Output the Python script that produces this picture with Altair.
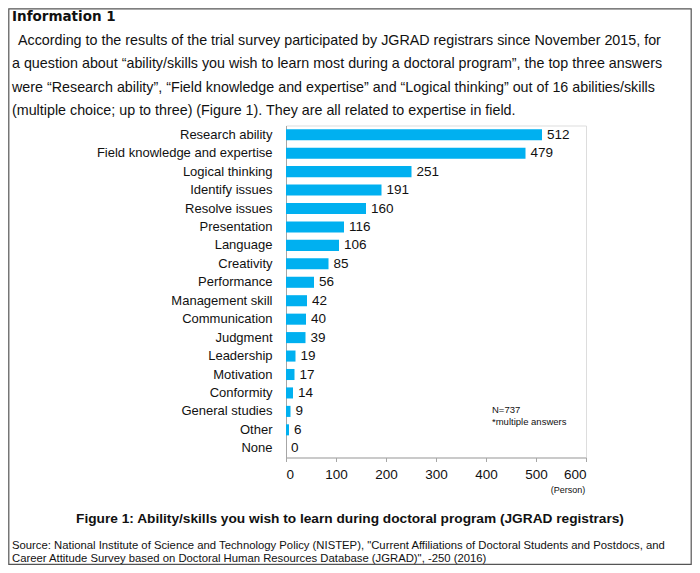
import altair as alt
import pandas as pd

categories = ["Research ability", "Field knowledge and expertise", "Logical thinking",
              "Identify issues", "Resolve issues", "Presentation", "Language", "Creativity",
              "Performance", "Management skill", "Communication", "Judgment\u00a0\u00a0",
              "Leadership", "Motivation", "Conformity\u00a0\u00a0", "General studies", "Other", "None"]
counts = [512, 479, 251, 191, 160, 116, 106, 85, 56, 42, 40, 39, 19, 17, 14, 9, 6, 0]
x_ticks = [0, 100, 200, 300, 400, 500, 600]

title_text = "Information 1"
para_lines = [
    "According to the results of the trial survey participated by JGRAD registrars since November 2015, for",
    "a question about \u201cability/skills you wish to learn most during a doctoral program\u201d, the top three answers",
    "were \u201cResearch ability\u201d, \u201cField knowledge and expertise\u201d and \u201cLogical thinking\u201d out of 16 abilities/skills",
    "(multiple choice; up to three) (Figure 1). They are all related to expertise in field.",
]
caption_text = "Figure 1: Ability/skills you wish to learn during doctoral program (JGRAD registrars)"
source_lines = [
    "Source: National Institute of Science and Technology Policy (NISTEP), \"Current Affiliations of Doctoral Students and Postdocs, and",
    "Career Attitude Survey based on Doctoral Human Resources Database (JGRAD)\", -250 (2016)",
]
note_lines = ["N=737", "*multiple answers"]
unit_text = "(Person)"

df = pd.DataFrame({"skill": categories, "count": counts})

# plot area origin on the page: (286, 125.5)
OX, OY = 286, 125.5
W, H = 300, 332
TOTAL_W, TOTAL_H = 684, 557
PL, PT = OX - 8, OY - 8

FONT = "Liberation Sans"

y_enc = alt.Y("skill:N", sort=categories, title=None,
              scale=alt.Scale(paddingInner=0.4, paddingOuter=0.2),
              axis=alt.Axis(domainColor="#a6a6a6", ticks=False, labelPadding=14, labelLimit=400,
                            labelFontSize=13, labelColor="#111", labelFont=FONT))
x_enc = alt.X("count:Q", title=None, scale=alt.Scale(domain=[0, 600], nice=False),
              axis=alt.Axis(values=x_ticks, grid=False, domainColor="#a6a6a6", tickColor="#a6a6a6",
                            tickSize=4, labelPadding=6, labelFontSize=13.5, labelColor="#111",
                            labelFont=FONT))

bars = alt.Chart(df).mark_bar(color="#00B0F0").encode(x=x_enc, y=y_enc)
values = alt.Chart(df).mark_text(align="left", baseline="middle", dx=5, fontSize=13.5,
                                 font=FONT, color="#111").encode(
    x="count:Q", y=alt.Y("skill:N", sort=categories), text="count:Q")

one = pd.DataFrame({"k": [0]})


def txt(s, px, py, size, weight="normal", align="left", font=FONT, color="#111"):
    return alt.Chart(one).mark_text(align=align, baseline="middle", fontSize=size,
                                    fontWeight=weight, font=font, color=color).encode(
        x=alt.value(px - OX), y=alt.value(py - OY), text=alt.value(s))


layers = [bars, values]
frame = alt.Chart(one).mark_rect(fill="transparent", stroke="#555", strokeWidth=1.2).encode(
    x=alt.value(8.8 - OX), x2=alt.value(691.2 - OX), y=alt.value(8.8 - OY), y2=alt.value(564.4 - OY))
layers.append(frame)
layers.append(txt(title_text, 12, 17, 13.5, weight="bold", font="DejaVu Sans"))
for i, line in enumerate(para_lines):
    layers.append(txt(line, 18 if i == 0 else 12, 41 + i * 23.4, 14.3))
layers.append(txt(note_lines[0], 492, 410, 9.5))
layers.append(txt(note_lines[1], 492, 422, 9.5))
layers.append(txt(unit_text, 568, 490, 9, align="center"))
layers.append(txt(caption_text, 350, 519, 13.7, weight="bold", align="center"))
for i, line in enumerate(source_lines):
    layers.append(txt(line, 12, 546 + i * 12.8, 11.3))

chart = alt.layer(*layers).properties(
    width=W, height=H,
    autosize=alt.AutoSizeParams(type="none"),
    padding={"left": PL, "top": PT, "right": TOTAL_W - PL - W, "bottom": TOTAL_H - PT - H},
).configure_view(stroke=None).configure(background="white")

chart.save("out.html", embed_options={"renderer": "svg", "actions": False})
